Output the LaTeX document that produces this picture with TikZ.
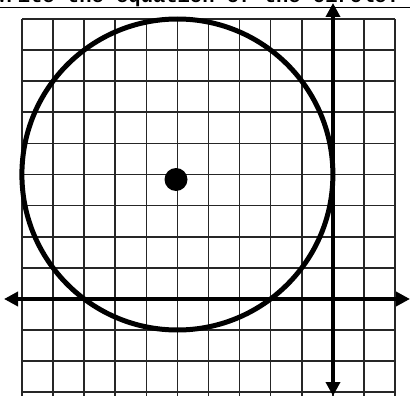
\documentclass[tikz,border=0pt]{standalone}
\usepackage{fontspec}
\setmonofont{Liberation Mono}
\usetikzlibrary{arrows.meta}
\begin{document}
\begin{tikzpicture}[x=1pt,y=-1pt,
  gridline/.style={line width=1.6pt, black!85},
  axis/.style={line width=4.8pt, {Triangle[length=14pt,width=14pt]}-{Triangle[length=14pt,width=14pt]}},
  curve/.style={line width=5pt},
  dot/.style={circle, fill=black, inner sep=0pt, minimum size=23pt},
  rule/.style={line width=1.3pt}]
\useasboundingbox (0,0) rectangle (410,396);
\begin{scope}
  \clip (0,0) rectangle (410,396);
  \node[anchor=base west, font=\ttfamily\bfseries\fontsize{20.5}{20.5}\selectfont, inner sep=0pt] (title) at (-7,3) {Write the equation of the circle.};
  \coordinate (ul) at (0,7.5);
  \coordinate (ur) at (410,7.5);
  \draw[rule] (ul) -- (ur);
  % grid
  \foreach \i in {0,...,12} {
    \draw[gridline] ({22+\i*31.08},19) -- ({22+\i*31.08},396);
    \draw[gridline] (22,{19+\i*31.1}) -- (395,{19+\i*31.1});
  }
\end{scope}
% axes
\coordinate (xl) at (4,299);
\coordinate (xr) at (410,299);
\coordinate (yt) at (333,3);
\coordinate (yb) at (333,396);
\draw[axis] (xl) -- (xr);
\draw[axis] (yb) -- (yt);
% circle
\coordinate (c) at (177.4,174.5);
\draw[curve] (c) circle (155.5);
\node[dot] (center) at (176,179.5) {};
\end{tikzpicture}
\end{document}
